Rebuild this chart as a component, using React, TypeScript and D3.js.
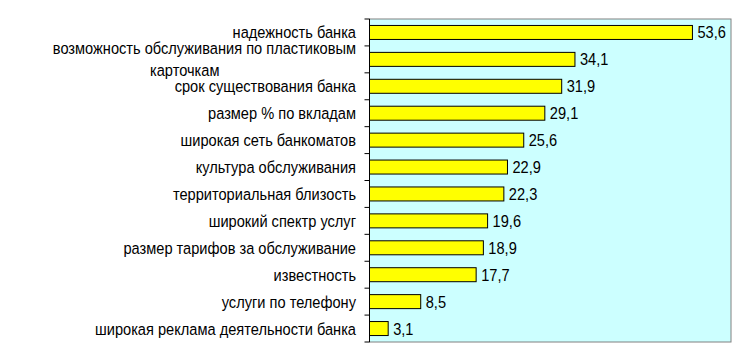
import { useMemo } from 'react'
import * as d3 from 'd3'

const W = 750
const H = 361
const PLOT = { left: 369.5, right: 731, top: 19, bottom: 342 }

const CATEGORIES = [
  ['надежность банка'],
  ['возможность обслуживания по пластиковым', 'карточкам'],
  ['срок существования банка'],
  ['размер % по вкладам'],
  ['широкая сеть банкоматов'],
  ['культура обслуживания'],
  ['территориальная близость'],
  ['широкий спектр услуг'],
  ['размер тарифов за обслуживание'],
  ['известность'],
  ['услуги по телефону'],
  ['широкая реклама деятельности банка']
]
const VALUES = [53.6, 34.1, 31.9, 29.1, 25.6, 22.9, 22.3, 19.6, 18.9, 17.7, 8.5, 3.1]
const X_MAX = 60

const FONT = 'Liberation Sans, Arial, sans-serif'
const FONT_SIZE = 17
const SQUEEZE = 0.86 // excel text looks tall and narrow

function Label({ x, y, anchor = 'start', text }: { x: number; y: number; anchor?: string; text: string }) {
  return (
    <g transform={`translate(${x},${y}) scale(${SQUEEZE},1)`}>
      <text dy="0.35em" textAnchor={anchor} fontFamily={FONT} fontSize={FONT_SIZE} fill="#000">
        {text}
      </text>
    </g>
  )
}

export default function App() {
  const keys = CATEGORIES.map((_, i) => String(i))

  const { x, y } = useMemo(() => {
    const x = d3.scaleLinear().domain([0, X_MAX]).range([PLOT.left, PLOT.right])
    const y = d3.scaleBand().domain(keys).range([PLOT.top, PLOT.bottom]).paddingInner(0.48).paddingOuter(0.24)
    return { x, y }
  }, [])

  const step = (PLOT.bottom - PLOT.top) / keys.length
  const boundaries = d3.range(keys.length + 1).map(i => PLOT.top + i * step)
  const fmt = (v: number) => v.toFixed(1).replace('.', ',')
  const mid = (i: number) => (y(keys[i]) ?? 0) + y.bandwidth() / 2

  return (
    <svg width={W} height={H} style={{ position: 'absolute', left: 0, top: 0, background: '#fff' }}>
      {/* plot area */}
      <rect
        x={PLOT.left}
        y={PLOT.top}
        width={PLOT.right - PLOT.left}
        height={PLOT.bottom - PLOT.top}
        fill="#ccffff"
        stroke="#808080"
        strokeWidth={1}
      />

      {/* bars */}
      {VALUES.map((v, i) => (
        <rect
          key={`bar-${i}`}
          x={x(0)}
          y={y(keys[i])}
          width={x(v) - x(0)}
          height={y.bandwidth()}
          fill="#ffff00"
          stroke="#000"
          strokeWidth={1}
        />
      ))}

      {/* value labels */}
      {VALUES.map((v, i) => (
        <Label key={`val-${i}`} x={x(v) + 5} y={mid(i)} text={fmt(v)} />
      ))}

      {/* category axis */}
      <line x1={PLOT.left} x2={PLOT.left} y1={PLOT.top} y2={PLOT.bottom} stroke="#000" />
      {boundaries.map((b, i) => (
        <line key={`tick-${i}`} x1={PLOT.left - 5} x2={PLOT.left} y1={b} y2={b} stroke="#000" />
      ))}

      {/* category labels */}
      {CATEGORIES.map((lines, i) => {
        if (lines.length === 1) {
          return <Label key={`cat-${i}`} x={356} y={mid(i)} anchor="end" text={lines[0]} />
        }
        return (
          <g key={`cat-${i}`}>
            <Label x={356} y={mid(i) - 11} anchor="end" text={lines[0]} />
            <Label x={150} y={mid(i) + 11} text={lines[1]} />
          </g>
        )
      })}
    </svg>
  )
}
